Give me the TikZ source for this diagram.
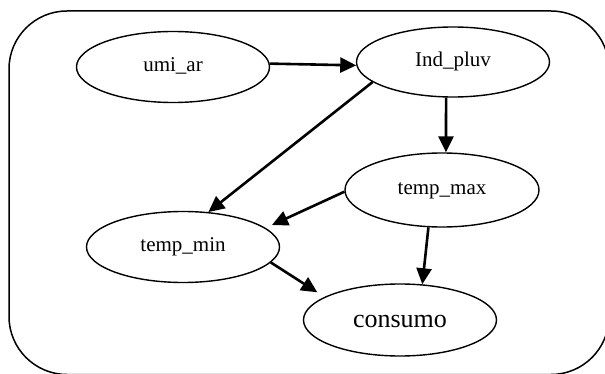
\documentclass[tikz,border=0pt]{standalone}
\usepackage{fontspec}
\setmainfont{Liberation Serif}
\usetikzlibrary{shapes.geometric,arrows.meta}
\begin{document}
\begin{tikzpicture}[x=1pt,y=-1pt,
  var/.style={draw, ellipse, line width=1.4pt, inner sep=0pt,
    font=\fontsize{21}{25}\selectfont, text height=15.5pt, text depth=6pt},
  edge/.style={line width=2.6pt, -{Triangle[length=16pt,width=15pt]}},
  frame/.style={line width=1.5pt, rounded corners=58pt}
]
\useasboundingbox (0,0) rectangle (605,374);
\clip (0,0) rectangle (605,374);
\draw[frame] (9,11) rectangle (609,374.5);

\node[var, minimum width=193pt, minimum height=71pt] (umi) at (173,67) {umi\_ar};
\node[var, minimum width=193pt, minimum height=70pt] (ind) at (453,62) {Ind\_pluv};
\node[var, minimum width=194pt, minimum height=74pt] (tmax) at (442,190) {temp\_max};
\node[var, minimum width=193pt, minimum height=71pt] (tmin) at (183,247) {temp\_min};
\node[var, minimum width=193pt, minimum height=72pt,
  font=\fontsize{26}{30}\selectfont, text height=19.6pt, text depth=5pt] (cons) at (400,320) {consumo};

\draw[edge] (umi.2) -- (ind.182);
\draw[edge] (ind.194) -- (tmin.54);
\draw[edge] (ind.259) -- (tmax.84);
\draw[edge, shorten >=7pt] (tmax.181) -- (tmin.13);
\draw[edge] (tmax.250) -- (cons.58);
\draw[edge, shorten >=8.5pt] (tmin.350) -- (cons.163);
\end{tikzpicture}
\end{document}
